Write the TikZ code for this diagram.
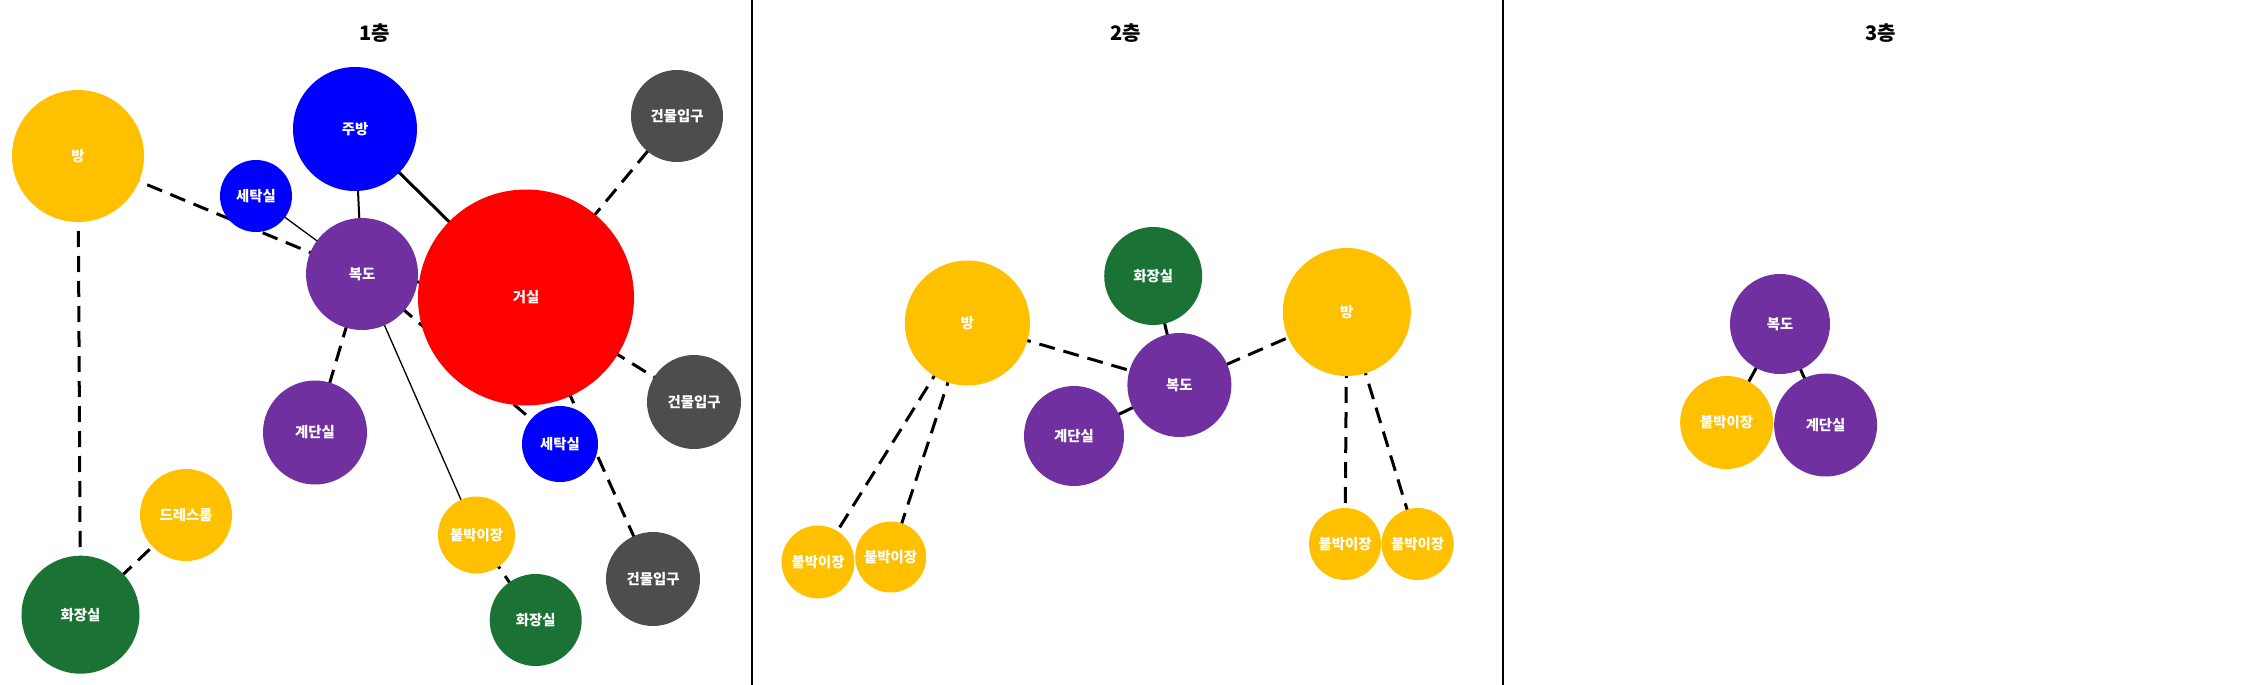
\documentclass[tikz,border=0pt]{standalone}
\usepackage{fontspec}
\setmainfont{Noto Sans CJK KR}
\usetikzlibrary{backgrounds}
\definecolor{cyel}{HTML}{FFC000}
\definecolor{cblue}{HTML}{0000FF}
\definecolor{cred}{HTML}{FF0000}
\definecolor{cpurp}{HTML}{7030A0}
\definecolor{cgreen}{HTML}{1A7334}
\definecolor{cgray}{HTML}{4D4D4D}
\tikzset{
  room/.style={circle, draw=none, inner sep=0pt, minimum size=#1pt, text=white,
    font=\bfseries\fontsize{7.2}{8}\selectfont},
  dline/.style={line width=1.5pt, dash pattern=on 8pt off 4.5pt},
  tline/.style={line width=0.65pt},
  mline/.style={line width=1pt},
  sline/.style={line width=1.5pt},
  floor/.style={font=\bfseries\fontsize{10}{12}\selectfont},
}
\begin{document}
\begin{tikzpicture}[x=0.5pt, y=-0.5pt]
\useasboundingbox (0,0) rectangle (2254,685);
\draw[line width=0.75pt] (752,0) -- (752,685);
\draw[line width=0.75pt] (1503,0) -- (1503,685);
% 1층
\node[floor] (t1) at (374.6,33) {1층};
\node[room=66, fill=cyel] (bang1) at (78,156) {방};
\node[room=36, fill=cblue] (setak1) at (256,196) {세탁실};
\node[room=62, fill=cblue] (jubang1) at (355,129) {주방};
\node[room=46, fill=cgray] (ipgu1) at (677,116) {건물입구};
\node[room=56, fill=cpurp] (bokdo1) at (362,274) {복도};
\node[room=108, fill=cred] (geosil1) at (526,297.5) {거실};
\node[room=47, fill=cgray] (ipgu2) at (694,402) {건물입구};
\node[room=52, fill=cpurp] (gyedan1) at (315,432.5) {계단실};
\node[room=38, fill=cblue] (setak2) at (560,444) {세탁실};
\node[room=46, fill=cyel] (dress1) at (186,515) {드레스룸};
\node[room=38.5, fill=cyel] (buk1) at (476.5,535) {붙박이장};
\node[room=59, fill=cgreen] (hwa1) at (80.5,614.7) {화장실};
\node[room=46, fill=cgreen] (hwa2) at (535.7,620) {화장실};
\node[room=47, fill=cgray] (ipgu3) at (653,579) {건물입구};
% 2층
\node[floor] (t2) at (1126,33) {2층};
\node[room=62.5, fill=cyel] (bang2) at (967.4,323) {방};
\node[room=49, fill=cgreen] (hwa3) at (1153.2,276) {화장실};
\node[room=64, fill=cyel] (bang3) at (1346.8,312) {방};
\node[room=52, fill=cpurp] (bokdo2) at (1179.4,385) {복도};
\node[room=50, fill=cpurp] (gyedan2) at (1074,436) {계단실};
\node[room=36.4, fill=cyel] (buk2) at (818,562) {붙박이장};
\node[room=35.5, fill=cyel] (buk3) at (890.7,557) {붙박이장};
\node[room=36, fill=cyel] (buk4) at (1345,544) {붙박이장};
\node[room=36, fill=cyel] (buk5) at (1417.6,544) {붙박이장};
% 3층
\node[floor] (t3) at (1881,33) {3층};
\node[room=50, fill=cpurp] (bokdo3) at (1780,324) {복도};
\node[room=46.5, fill=cyel] (buk6) at (1726.6,422.5) {붙박이장};
\node[room=51.5, fill=cpurp] (gyedan3) at (1825.6,425) {계단실};
\begin{pgfonlayer}{background}
\foreach \a/\b in {bang1/bokdo1, bang1/hwa1, dress1/hwa1, bokdo1/setak2, bokdo1/gyedan1,
    geosil1/ipgu1, geosil1/ipgu2, geosil1/ipgu3, buk1/hwa2,
    bang2/bokdo2, bokdo2/bang3, bang2/buk2, bang2/buk3, bang3/buk4, bang3/buk5}
  \draw[dline] (\a.center) -- (\b.center);
\foreach \a/\b in {setak1/bokdo1, bokdo1/buk1}
  \draw[tline] (\a.center) -- (\b.center);
\draw[mline] (jubang1.center) -- (bokdo1.center);
\foreach \a/\b in {jubang1/geosil1, bokdo1/geosil1, hwa3/bokdo2, gyedan2/bokdo2,
    bokdo3/buk6, bokdo3/gyedan3}
  \draw[sline] (\a.center) -- (\b.center);
\end{pgfonlayer}
\end{tikzpicture}
\end{document}
